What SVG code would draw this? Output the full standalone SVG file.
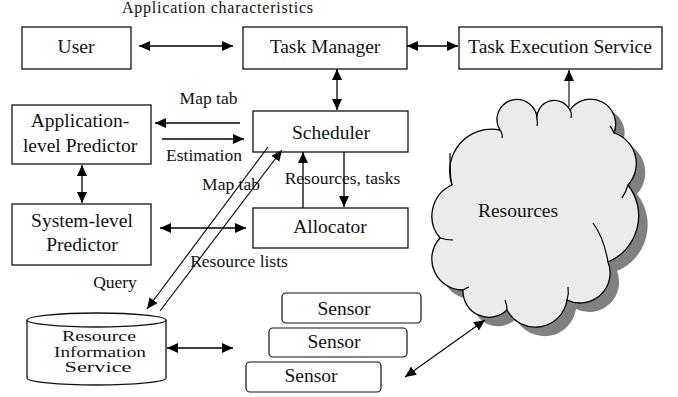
<svg xmlns="http://www.w3.org/2000/svg" width="678" height="397" viewBox="0 0 678 397" font-family="'Liberation Serif', 'DejaVu Serif', serif">
  <style>
    text { font-family: 'Liberation Serif', 'DejaVu Serif', serif; fill: #111; }
    .lbl { font-size: 19.5px; text-anchor: middle; }
    .ris { font-size: 14px; text-anchor: middle; }
    .small { font-size: 17.5px; text-anchor: middle; }
    .box { fill: #fff; stroke: #111; stroke-width: 1.3; }
    .sensor { fill: #fff; stroke: #111; stroke-width: 1.2; }
    .conn { stroke: #000; stroke-width: 1.3; fill: none; }
    .conn-thin { stroke: #000; stroke-width: 1.1; fill: none; }
    .cloud { fill: #ebebeb; stroke: #000; stroke-width: 1.3; }
    .cloud-shadow { fill: #808080; stroke: none; }
    .notch { fill: none; stroke: #000; stroke-width: 1.2; }
  </style>
  <defs>
    <marker id="head" markerUnits="userSpaceOnUse" markerWidth="12" markerHeight="10" refX="11" refY="5" orient="auto-start-reverse">
      <path d="M0,0 L11,5 L0,10 z" fill="#000"/>
    </marker>
    <path id="cloudShape" d="M452,185 A42,42 0 0 1 500,130 A20,20 0 1 1 537,120 A17.5,17.5 0 0 1 570,110 A25,25 0 0 1 614,133 A32,32 0 0 1 628,185 A50,50 0 0 1 608,262 A30,30 0 0 1 567,300 A32,32 0 0 1 507,310 A26,26 0 0 1 463,290 A31,31 0 0 1 440,238 A34,34 0 0 1 452,185 Z"/>
  </defs>

  <!-- top caption -->
  <text x="217.5" y="13" style="font-size:16px;text-anchor:middle" textLength="191" lengthAdjust="spacing">Application characteristics</text>

  <!-- nodes -->
  <g id="user">
    <rect class="box" x="22" y="27" width="109" height="42"/>
    <text class="lbl" x="76" y="53">User</text>
  </g>
  <g id="task-manager">
    <rect class="box" x="243" y="27" width="164" height="42"/>
    <text class="lbl" x="325" y="53">Task Manager</text>
  </g>
  <g id="task-execution-service">
    <rect class="box" x="459" y="27" width="203" height="42"/>
    <text class="lbl" x="560" y="53">Task Execution Service</text>
  </g>
  <g id="app-predictor">
    <rect class="box" x="12" y="105" width="139" height="59"/>
    <text class="lbl" x="80" y="127">Application-</text>
    <text class="lbl" x="80" y="152">level Predictor</text>
  </g>
  <g id="sys-predictor">
    <rect class="box" x="12" y="204" width="139" height="61"/>
    <text class="lbl" x="82" y="227">System-level</text>
    <text class="lbl" x="82" y="251">Predictor</text>
  </g>
  <g id="scheduler">
    <rect class="box" x="253" y="111" width="155" height="41"/>
    <text class="lbl" x="331" y="139">Scheduler</text>
  </g>
  <g id="allocator">
    <rect class="box" x="253" y="208" width="155" height="40"/>
    <text class="lbl" x="330" y="233">Allocator</text>
  </g>
  <g id="resources">
    <use href="#cloudShape" class="cloud-shadow" transform="translate(9,9)"/>
    <use href="#cloudShape" class="cloud"/>
    <!-- inner lobe tails -->
    <path class="notch" d="M500,130 Q503,134 502,138"/>
    <path class="notch" d="M537,120 Q538,123 537,126"/>
    <path class="notch" d="M570,110 Q572,113 571,118"/>
    <path class="notch" d="M614,133 Q612,128 610,126"/>
    <path class="notch" d="M628,185 Q626,192 622,198"/>
    <path class="notch" d="M608,262 Q604,238 593,223"/>
    <path class="notch" d="M567,300 Q569,294 568,287"/>
    <path class="notch" d="M507,310 Q507,305 505,300"/>
    <path class="notch" d="M463,290 Q466,288 469,287"/>
    <path class="notch" d="M440,238 Q446,240 453,240"/>
    <path class="notch" d="M452,185 Q450,180 450,153"/>
    <text class="lbl" x="518" y="217">Resources</text>
  </g>
  <g id="resource-information-service">
    <path class="box" d="M27,320 L27,378 A69.5,7 0 0 0 166,378 L166,320"/>
    <ellipse class="box" cx="96.5" cy="320" rx="69.5" ry="7"/>
    <text class="ris" x="99" y="341" textLength="74" lengthAdjust="spacingAndGlyphs">Resource</text>
    <text class="ris" x="100" y="356.5" textLength="92" lengthAdjust="spacingAndGlyphs">Information</text>
    <text class="ris" x="98" y="372" textLength="67" lengthAdjust="spacingAndGlyphs">Service</text>
  </g>
  <g id="sensor-1">
    <rect class="sensor" x="282" y="293" width="139" height="30" rx="4"/>
    <text class="lbl" x="344" y="315">Sensor</text>
  </g>
  <g id="sensor-2">
    <rect class="sensor" x="269" y="328" width="138" height="29" rx="4"/>
    <text class="lbl" x="334" y="348">Sensor</text>
  </g>
  <g id="sensor-3">
    <rect class="sensor" x="246" y="362" width="135" height="30" rx="4"/>
    <text class="lbl" x="311" y="382">Sensor</text>
  </g>

  <!-- connectors -->
  <g id="connectors">
    <line class="conn" x1="139" y1="46" x2="233" y2="46" marker-start="url(#head)" marker-end="url(#head)"/>
    <line class="conn" x1="407" y1="46" x2="458" y2="46" marker-start="url(#head)" marker-end="url(#head)"/>
    <line class="conn" x1="337" y1="69" x2="337" y2="110" marker-start="url(#head)" marker-end="url(#head)"/>
    <line class="conn" x1="240" y1="123" x2="155" y2="123" marker-end="url(#head)"/>
    <line class="conn" x1="162" y1="139" x2="244" y2="139" marker-end="url(#head)"/>
    <line class="conn" x1="82" y1="165" x2="82" y2="203" marker-start="url(#head)" marker-end="url(#head)"/>
    <line class="conn" x1="160" y1="228" x2="246" y2="228" marker-start="url(#head)" marker-end="url(#head)"/>
    <line class="conn" x1="303" y1="208" x2="303" y2="152" marker-end="url(#head)"/>
    <line class="conn" x1="344" y1="152" x2="344" y2="207" marker-end="url(#head)"/>
    <line class="conn-thin" x1="268" y1="147" x2="147" y2="309" marker-end="url(#head)"/>
    <line class="conn-thin" x1="160" y1="311" x2="282" y2="150" marker-end="url(#head)"/>
    <line class="conn" x1="167" y1="348" x2="233" y2="348" marker-start="url(#head)" marker-end="url(#head)"/>
    <line class="conn-thin" x1="405" y1="377" x2="485" y2="320" marker-start="url(#head)" marker-end="url(#head)"/>
    <line class="conn-thin" x1="569" y1="107" x2="569" y2="70" marker-end="url(#head)"/>
  </g>

  <!-- connector labels -->
  <text class="small" x="208.5" y="104">Map tab</text>
  <text class="small" x="204" y="161">Estimation</text>
  <text class="small" x="231" y="190">Map tab</text>
  <text class="small" x="342.5" y="184">Resources, tasks</text>
  <text class="small" x="239" y="267">Resource lists</text>
  <text class="small" x="115" y="288">Query</text>
</svg>
